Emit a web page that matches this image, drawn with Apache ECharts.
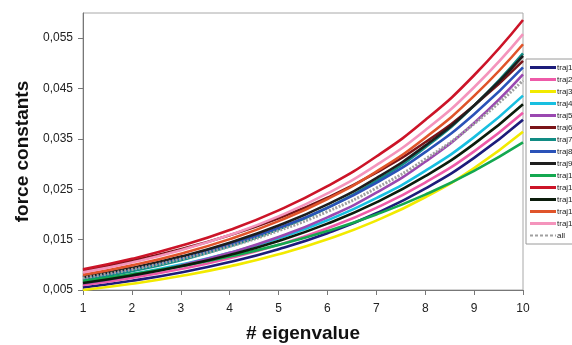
<!DOCTYPE html>
<html>
<head>
<meta charset="utf-8">
<script src="https://cdn.jsdelivr.net/npm/echarts@6/dist/echarts.min.js"></script>
<style>
  html, body { margin: 0; padding: 0; background: #fff; }
  #chart { width: 572px; height: 345px; }
</style>
</head>
<body>
<div id="chart"></div>
<script>
// Eigenvalue index on the x axis
const eigenvalues = [1, 2, 3, 4, 5, 6, 7, 8, 9, 10];

// Force constants per trajectory
const traj1  = [0.0055, 0.00683, 0.00849, 0.01055, 0.01311, 0.01628, 0.02023, 0.02513, 0.03123, 0.0388];
const traj2  = [0.0060, 0.00741, 0.00916, 0.01131, 0.01397, 0.01726, 0.02132, 0.02634, 0.03253, 0.0402];
const traj3  = [0.0050, 0.00623, 0.00777, 0.00969, 0.01208, 0.01507, 0.01878, 0.02342, 0.02920, 0.0364];
const traj4  = [0.0066, 0.00814, 0.01004, 0.01238, 0.01527, 0.01884, 0.02324, 0.02866, 0.03535, 0.0436];
const traj5  = [0.0063, 0.00789, 0.00988, 0.01238, 0.01551, 0.01942, 0.02432, 0.03047, 0.03816, 0.0478];
const traj6  = [0.0089, 0.01079, 0.01309, 0.01587, 0.01925, 0.02334, 0.02831, 0.03433, 0.04163, 0.0505];
const traj7  = [0.0070, 0.00875, 0.01093, 0.01366, 0.01707, 0.02133, 0.02665, 0.03330, 0.04162, 0.0520];
const traj8  = [0.0075, 0.00924, 0.01139, 0.01404, 0.01730, 0.02132, 0.02628, 0.03238, 0.03991, 0.0492];
const traj9  = [0.0076, 0.00940, 0.01163, 0.01438, 0.01779, 0.02200, 0.02721, 0.03366, 0.04164, 0.0515];
const traj10 = [0.0068, 0.00814, 0.00974, 0.01166, 0.01396, 0.01671, 0.02000, 0.02394, 0.02866, 0.0343];
const traj11 = [0.0091, 0.01119, 0.01377, 0.01693, 0.02082, 0.02561, 0.03150, 0.03874, 0.04764, 0.0586];
const traj12 = [0.0064, 0.00789, 0.00972, 0.01197, 0.01475, 0.01818, 0.02240, 0.02760, 0.03401, 0.0419];
const traj13 = [0.0080, 0.00989, 0.01222, 0.01510, 0.01867, 0.02307, 0.02851, 0.03524, 0.04355, 0.0538];
const traj14 = [0.0085, 0.01048, 0.01291, 0.01591, 0.01961, 0.02417, 0.02979, 0.03672, 0.04526, 0.0558];
const all    = [0.0074, 0.00908, 0.01114, 0.01367, 0.01677, 0.02057, 0.02524, 0.03097, 0.03799, 0.0466];

// Y tick labels start at 0.005 and step by 0.01
const yMin = 0.005;
const yMax = 0.060;
const yStep = 0.01;

const lines = [
  { name: 'traj1',  data: traj1,  color: '#1c1c7a' },
  { name: 'traj2',  data: traj2,  color: '#ee5aa8' },
  { name: 'traj3',  data: traj3,  color: '#f2ea00' },
  { name: 'traj4',  data: traj4,  color: '#18bfe0' },
  { name: 'traj5',  data: traj5,  color: '#9a48b0' },
  { name: 'traj6',  data: traj6,  color: '#7a1418' },
  { name: 'traj7',  data: traj7,  color: '#128c84' },
  { name: 'traj8',  data: traj8,  color: '#2a52b8' },
  { name: 'traj9',  data: traj9,  color: '#1e1e1e' },
  { name: 'traj10', data: traj10, color: '#14a850' },
  { name: 'traj11', data: traj11, color: '#cc1428' },
  { name: 'traj12', data: traj12, color: '#0c1c0c' },
  { name: 'traj13', data: traj13, color: '#e0542a' },
  { name: 'traj14', data: traj14, color: '#f494bc' },
  { name: 'all',    data: all,    color: '#a0a0a0', dashed: true }
];

const dashIcon = 'path://M0,0h3v2h-3zM5,0h3v2h-3zM10,0h3v2h-3zM15,0h3v2h-3zM20,0h3v2h-3zM25,0h1v2h-1z';

const chart = echarts.init(document.getElementById('chart'), null, { renderer: 'canvas' });

chart.setOption({
  animation: false,
  backgroundColor: '#ffffff',
  textStyle: { fontFamily: '"Liberation Sans", Arial, sans-serif' },
  grid: {
    left: 83, right: 49, top: 13, bottom: 55,
    outerBoundsMode: 'none',
    containLabel: false,
    show: true, borderColor: '#a8a8a8', borderWidth: 1, backgroundColor: 'transparent'
  },
  legend: {
    orient: 'vertical',
    left: 526, top: 59,
    padding: [4, 10, 4, 4],
    backgroundColor: '#ffffff',
    borderColor: '#9a9a9a', borderWidth: 1,
    itemWidth: 26, itemHeight: 3,
    itemGap: 3,
    icon: 'rect',
    textStyle: { fontSize: 8, lineHeight: 9, color: '#222', padding: [0, 0, 0, -4] },
    data: lines.map(l => l.dashed ? { name: l.name, icon: dashIcon } : { name: l.name })
  },
  xAxis: {
    type: 'value',
    min: 1, max: 10, interval: 1,
    name: '# eigenvalue',
    nameLocation: 'middle',
    nameGap: 34,
    nameTextStyle: { fontSize: 19, fontWeight: 'bold', color: '#111' },
    axisLine: { lineStyle: { color: '#777', width: 1 } },
    axisTick: { show: true, length: 5, lineStyle: { color: '#777' } },
    axisLabel: { fontSize: 12, color: '#222', margin: 13 },
    splitLine: { show: false }
  },
  yAxis: {
    type: 'value',
    min: yMin, max: yMax, interval: yStep,
    name: 'force constants',
    nameLocation: 'middle',
    nameGap: 50,
    nameTextStyle: { fontSize: 19, fontWeight: 'bold', color: '#111' },
    axisLine: { show: true, lineStyle: { color: '#777', width: 1 } },
    axisTick: { show: true, length: 5, lineStyle: { color: '#777' } },
    axisLabel: {
      fontSize: 12, color: '#222', margin: 10,
      showMaxLabel: false,
      formatter: v => v.toFixed(3).replace('.', ',')
    },
    splitLine: { show: false }
  },
  series: lines.map(l => ({
    name: l.name,
    type: 'line',
    smooth: true,
    symbol: 'none',
    data: eigenvalues.map((x, i) => [x, l.data[i]]),
    lineStyle: {
      color: l.color,
      width: l.dashed ? 3 : 2.6,
      type: l.dashed ? [2, 1.5] : 'solid'
    },
    itemStyle: { color: l.color }
  }))
});
</script>
</body>
</html>
